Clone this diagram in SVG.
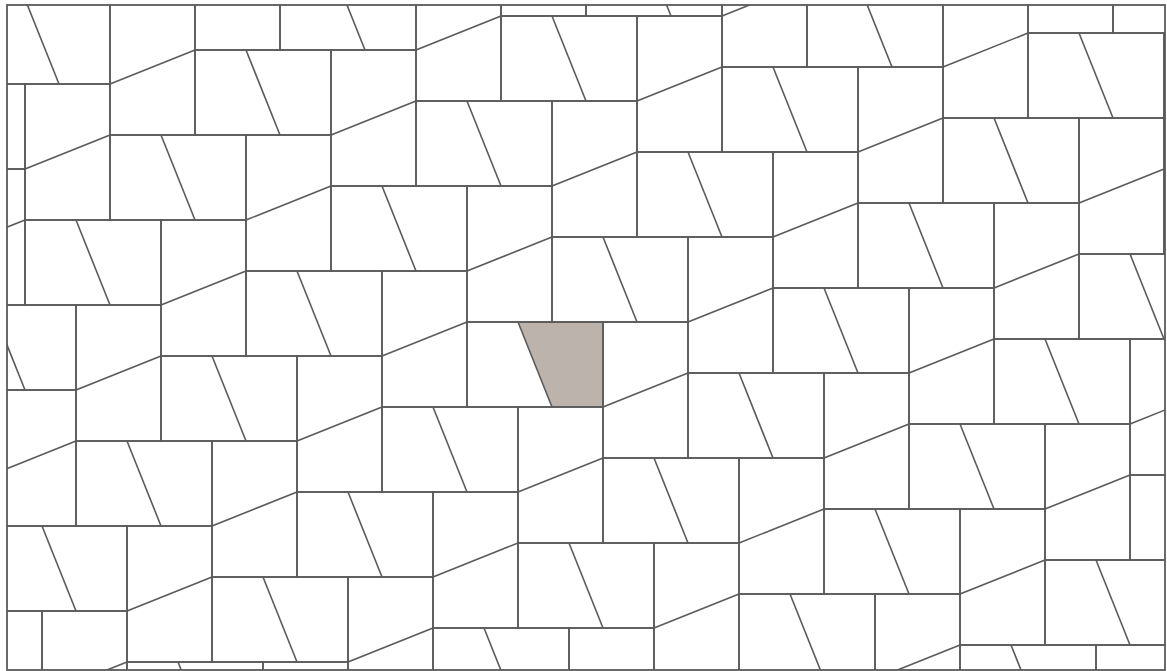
<svg xmlns="http://www.w3.org/2000/svg" width="1167" height="671" viewBox="0 0 1167 671">
<style>
.t { fill: none; stroke: #5a5a5a; stroke-width: 1.6; }
.frame { fill: none; stroke: #5a5a5a; stroke-width: 1.8; }
.hl { fill: #bcb3ac; stroke: none; }
</style>
<defs>
<clipPath id="clip"><rect x="7" y="5" width="1158" height="665"/></clipPath>
<g id="cell" fill="none">
<rect x="0" y="0" width="85" height="136"/>
<line x1="0" y1="85" x2="85" y2="51"/>
<rect x="85" y="51" width="136" height="85"/>
<line x1="136" y1="51" x2="170" y2="136"/>
</g>
</defs>
<rect x="0" y="0" width="1167" height="671" fill="#ffffff"/>
<g id="highlight">
<polygon class="hl" points="518,322 603,322 603,407 552,407"/>
</g>
<g id="tiling" class="t" clip-path="url(#clip)">
<use href="#cell" x="-196" y="33"/>
<use href="#cell" x="-111" y="-52"/>
<use href="#cell" x="-145" y="254"/>
<use href="#cell" x="-60" y="169"/>
<use href="#cell" x="25" y="84"/>
<use href="#cell" x="110" y="-1"/>
<use href="#cell" x="195" y="-86"/>
<use href="#cell" x="-179" y="560"/>
<use href="#cell" x="-94" y="475"/>
<use href="#cell" x="-9" y="390"/>
<use href="#cell" x="76" y="305"/>
<use href="#cell" x="161" y="220"/>
<use href="#cell" x="246" y="135"/>
<use href="#cell" x="331" y="50"/>
<use href="#cell" x="416" y="-35"/>
<use href="#cell" x="501" y="-120"/>
<use href="#cell" x="42" y="611"/>
<use href="#cell" x="127" y="526"/>
<use href="#cell" x="212" y="441"/>
<use href="#cell" x="297" y="356"/>
<use href="#cell" x="382" y="271"/>
<use href="#cell" x="467" y="186"/>
<use href="#cell" x="552" y="101"/>
<use href="#cell" x="637" y="16"/>
<use href="#cell" x="722" y="-69"/>
<use href="#cell" x="263" y="662"/>
<use href="#cell" x="348" y="577"/>
<use href="#cell" x="433" y="492"/>
<use href="#cell" x="518" y="407"/>
<use href="#cell" x="603" y="322"/>
<use href="#cell" x="688" y="237"/>
<use href="#cell" x="773" y="152"/>
<use href="#cell" x="858" y="67"/>
<use href="#cell" x="943" y="-18"/>
<use href="#cell" x="1028" y="-103"/>
<use href="#cell" x="569" y="628"/>
<use href="#cell" x="654" y="543"/>
<use href="#cell" x="739" y="458"/>
<use href="#cell" x="824" y="373"/>
<use href="#cell" x="909" y="288"/>
<use href="#cell" x="994" y="203"/>
<use href="#cell" x="1079" y="118"/>
<use href="#cell" x="1164" y="33"/>
<use href="#cell" x="875" y="594"/>
<use href="#cell" x="960" y="509"/>
<use href="#cell" x="1045" y="424"/>
<use href="#cell" x="1130" y="339"/>
<use href="#cell" x="1096" y="645"/>
</g>
<rect class="frame" x="7" y="5" width="1158" height="665"/>
</svg>
